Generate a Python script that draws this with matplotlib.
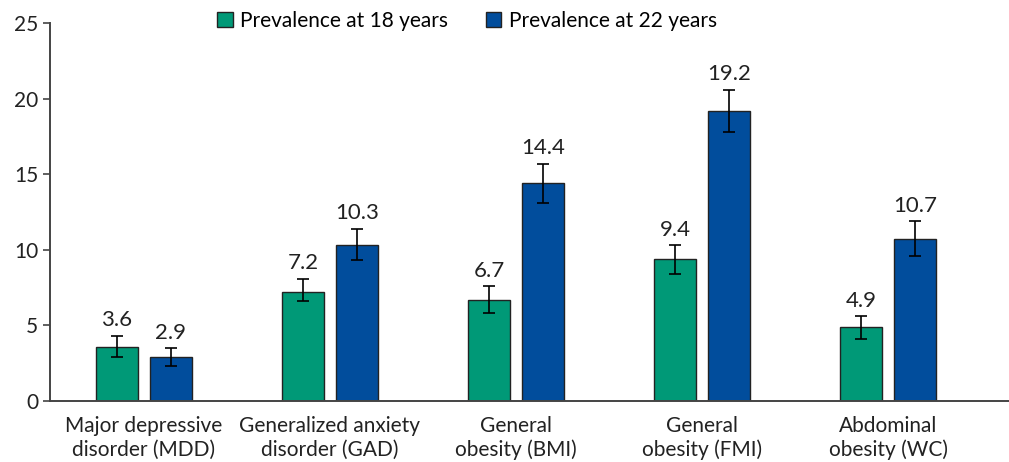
import numpy as np
import matplotlib
matplotlib.use('Agg')
import matplotlib.pyplot as plt

plt.rcParams['font.family'] = ['Lato', 'DejaVu Sans']

categories = ['Major depressive\ndisorder (MDD)', 'Generalized anxiety\ndisorder (GAD)',
              'General\nobesity (BMI)', 'General\nobesity (FMI)', 'Abdominal\nobesity (WC)']
prev_18 = [3.6, 7.2, 6.7, 9.4, 4.9]
prev_22 = [2.9, 10.3, 14.4, 19.2, 10.7]
# 95% confidence limits
lo_18 = [2.9, 6.6, 5.8, 8.4, 4.1]
hi_18 = [4.3, 8.1, 7.6, 10.3, 5.6]
lo_22 = [2.3, 9.3, 13.1, 17.8, 9.6]
hi_22 = [3.5, 11.4, 15.7, 20.6, 11.9]

green = '#009977'
blue = '#014d9c'
axcol = '#444444'

fig = plt.figure(figsize=(10.09, 4.62), dpi=100)
ax = fig.add_axes([50 / 1009, 61 / 462, 959 / 1009, 378 / 462])

x = np.arange(len(categories))
w = 0.225
off = 0.145

def draw(xs, vals, lo, hi, color, label):
    err = [np.array(vals) - np.array(lo), np.array(hi) - np.array(vals)]
    ax.bar(xs, vals, w, color=color, edgecolor='#222222', linewidth=1.0, label=label,
           yerr=err, error_kw=dict(ecolor='black', elinewidth=1.2, capsize=4.5, capthick=1.2))
    for xi, v, h in zip(xs, vals, hi):
        ax.annotate(f'{v:.1f}', (xi, h), xytext=(0, 4), textcoords='offset points',
                    ha='center', va='bottom', fontsize=16, color='#222222')

draw(x - off, prev_18, lo_18, hi_18, green, 'Prevalence at 18 years')
draw(x + off, prev_22, lo_22, hi_22, blue, 'Prevalence at 22 years')

ax.set_xlim(-0.505, 4.65)
ax.set_ylim(0, 25)
ax.set_yticks([0, 5, 10, 15, 20, 25])
ax.set_xticks(x)
ax.set_xticklabels(categories, fontsize=15, color='#222222', linespacing=1.2)
ax.tick_params(axis='x', length=0, pad=11)
ax.tick_params(axis='y', labelsize=15, labelcolor='#222222', color=axcol, length=5, width=1.2)
for s in ['top', 'right']:
    ax.spines[s].set_visible(False)
for s in ['left', 'bottom']:
    ax.spines[s].set_color(axcol)
    ax.spines[s].set_linewidth(1.4)

ax.legend(loc='center', bbox_to_anchor=(0.435, 1.005), ncol=2, frameon=False,
          fontsize=15, handlelength=0.75, handleheight=0.75, handletextpad=0.35,
          columnspacing=1.8)

fig.savefig('out.png', dpi=100)
